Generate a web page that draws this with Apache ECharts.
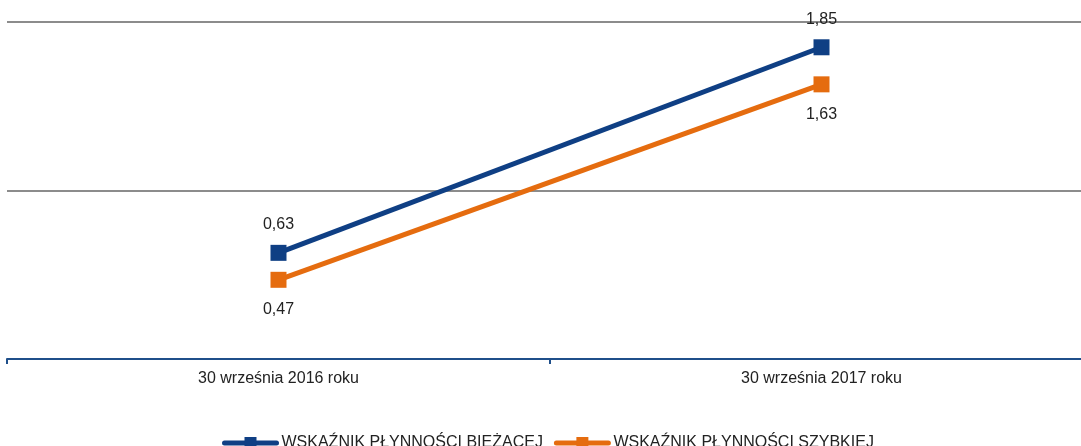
<!DOCTYPE html>
<html>
<head>
<meta charset="utf-8">
<script src="https://cdn.jsdelivr.net/npm/echarts@6/dist/echarts.min.js"></script>
<style>
html,body{margin:0;padding:0;background:#fff;}
#c{width:1081px;height:446px;}
</style>
</head>
<body>
<div id="c"></div>
<script>
const categories = ['30 września 2016 roku', '30 września 2017 roku'];
const seriesNames = ['WSKAŹNIK PŁYNNOŚCI BIEŻĄCEJ', 'WSKAŹNIK PŁYNNOŚCI SZYBKIEJ'];
const currentRatio = [0.63, 1.85];
const quickRatio = [0.47, 1.63];
const colors = ['#0f3f84', '#e56c0f'];

const fmt = p => String(p.value).replace('.', ',');
const chart = echarts.init(document.getElementById('c'));
chart.setOption({
  animation: false,
  textStyle: {fontFamily: 'Liberation Sans, Arial, sans-serif'},
  grid: {left: 7, width: 1086, top: 22, bottom: 87, outerBoundsMode: 'none', containLabel: false},
  legend: {
    left: 222, top: 435, padding: 0,
    itemWidth: 52, itemHeight: 15, itemGap: 11,
    lineStyle: {width: 5, cap: 'round'},
    textStyle: {fontSize: 16, color: '#222'},
    data: seriesNames
  },
  xAxis: {
    type: 'category',
    data: categories,
    axisLine: {lineStyle: {color: '#1f4f8a', width: 2}},
    axisTick: {show: true, length: 5, lineStyle: {color: '#1f4f8a', width: 2}},
    axisLabel: {fontSize: 16, color: '#222', margin: 12}
  },
  yAxis: {
    type: 'value', min: 0, max: 2, interval: 1,
    axisLine: {show: false}, axisTick: {show: false}, axisLabel: {show: false},
    splitLine: {lineStyle: {color: '#8c8c8c', width: 2}}
  },
  series: [
    {
      name: seriesNames[0], type: 'line', data: currentRatio,
      symbol: 'rect', symbolSize: 16,
      lineStyle: {color: colors[0], width: 5},
      itemStyle: {color: colors[0]},
      label: {show: true, position: 'top', distance: 12, fontSize: 16, color: '#222', formatter: fmt}
    },
    {
      name: seriesNames[1], type: 'line', data: quickRatio,
      symbol: 'rect', symbolSize: 16,
      lineStyle: {color: colors[1], width: 5},
      itemStyle: {color: colors[1]},
      label: {show: true, position: 'bottom', distance: 14, fontSize: 16, color: '#222', formatter: fmt}
    }
  ]
});
</script>
</body>
</html>
